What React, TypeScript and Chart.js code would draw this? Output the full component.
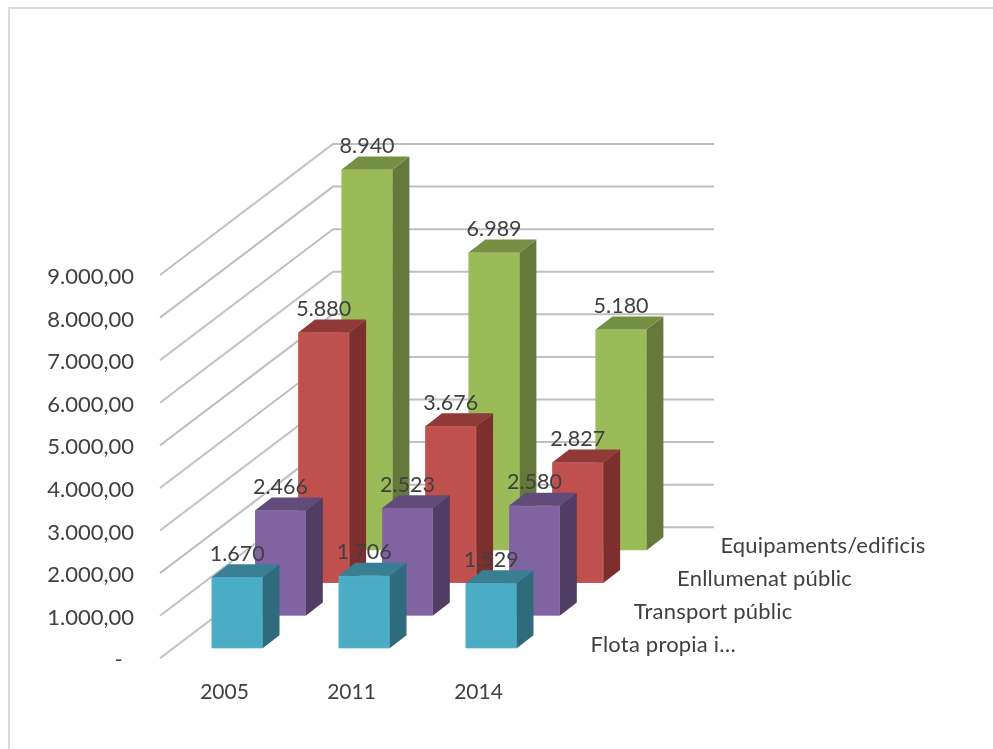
import React, { useEffect, useRef } from "react";
import { Chart, registerables } from "chart.js";

Chart.register(...registerables);

const years = ["2005", "2011", "2014"];
const seriesNames = ["Flota propia i…", "Transport públic", "Enllumenat públic", "Equipaments/edificis"];
const flota = [1670, 1706, 1529];
const transport = [2466, 2523, 2580];
const enllumenat = [5880, 3676, 2827];
const equipaments = [8940, 6989, 5180];

const frontColors = ["#4BACC6", "#8064A2", "#C0504D", "#9BBB59"];
const borderColors = ["#57B1C9", "#866BA6", "#C45B58", "#A1BF63"];
const sideColors = ["#2E6C7D", "#503D66", "#7D2F2D", "#657A3A"];
const topColors = ["#387F93", "#604B7A", "#913937", "#769043"];

const FONT = "Lato, Carlito, sans-serif";
const TEXT = "#404040";
const TICK_FONT_SIZE = 22;
const YEAR_FONT_SIZE = 21;
const VALUE_FONT_SIZE = 21.5;
const NAME_FONT_SIZE = 22;

// projection of the 3D box, in pixels
const WALL_DX = 173;
const WALL_DY = 131;
const FIRST_DX = 13.7;
const FIRST_DY = 10;
const STEP_DX = 43.3;
const STEP_DY = 32.7;
const BOX_DX = 16.8;
const BOX_DY = 13;

const fmt = (v: number) => Math.round(v).toLocaleString("de-DE");

const depthPlugin = {
  id: "depth3d",
  beforeDatasetsDraw(chart: any) {
    const { ctx, chartArea, scales } = chart;
    ctx.save();
    ctx.strokeStyle = "#C0C0C0";
    ctx.lineWidth = 2;
    scales.y.ticks.forEach((t: any) => {
      const y = scales.y.getPixelForValue(t.value);
      ctx.beginPath();
      ctx.moveTo(chartArea.left, y);
      ctx.lineTo(chartArea.left + WALL_DX, y - WALL_DY);
      ctx.lineTo(chartArea.right + WALL_DX, y - WALL_DY);
      ctx.stroke();
    });
    ctx.restore();
  },
  beforeDatasetDraw(chart: any, args: any) {
    const i = args.index;
    chart.ctx.save();
    chart.ctx.translate(FIRST_DX + i * STEP_DX, -FIRST_DY - i * STEP_DY);
  },
  afterDatasetDraw(chart: any, args: any) {
    const { ctx } = chart;
    const i = args.index;
    args.meta.data.forEach((bar: any) => {
      const l = bar.x - bar.width / 2;
      const r = bar.x + bar.width / 2;
      ctx.strokeStyle = borderColors[i];
      ctx.lineWidth = 1;
      ctx.strokeRect(l + 0.5, bar.y + 0.5, bar.width - 1, bar.base - bar.y - 1);
      ctx.fillStyle = sideColors[i];
      ctx.beginPath();
      ctx.moveTo(r, bar.y);
      ctx.lineTo(r + BOX_DX, bar.y - BOX_DY);
      ctx.lineTo(r + BOX_DX, bar.base - BOX_DY);
      ctx.lineTo(r, bar.base);
      ctx.closePath();
      ctx.fill();
      ctx.fillStyle = topColors[i];
      ctx.beginPath();
      ctx.moveTo(l, bar.y);
      ctx.lineTo(l + BOX_DX, bar.y - BOX_DY);
      ctx.lineTo(r + BOX_DX, bar.y - BOX_DY);
      ctx.lineTo(r, bar.y);
      ctx.closePath();
      ctx.fill();
    });
    ctx.restore();
  },
  afterDatasetsDraw(chart: any) {
    const { ctx, chartArea } = chart;
    ctx.save();
    ctx.fillStyle = TEXT;
    ctx.textBaseline = "middle";
    chart.data.datasets.forEach((ds: any, i: number) => {
      const meta = chart.getDatasetMeta(i);
      const ox = FIRST_DX + i * STEP_DX;
      const oy = -FIRST_DY - i * STEP_DY;
      ctx.font = `${VALUE_FONT_SIZE}px ${FONT}`;
      ctx.letterSpacing = "0px";
      ctx.textAlign = "center";
      meta.data.forEach((bar: any, k: number) => {
        ctx.fillText(fmt(ds.data[k]), bar.x + ox, bar.y + oy - 23.5);
      });
      ctx.font = `${NAME_FONT_SIZE}px ${FONT}`;
      ctx.letterSpacing = "0.2px";
      ctx.textAlign = "left";
      ctx.fillText(seriesNames[i], chartArea.right + 49.5 + i * STEP_DX, 644.5 - i * 33);
    });
    ctx.restore();
  },
  afterDraw(chart: any) {
    const { ctx, width, height } = chart;
    ctx.save();
    ctx.strokeStyle = "#DADADA";
    ctx.lineWidth = 2;
    ctx.beginPath();
    ctx.moveTo(9, height);
    ctx.lineTo(9, 8);
    ctx.lineTo(width, 8);
    ctx.stroke();
    ctx.restore();
  },
};

export default function App() {
  const ref = useRef<HTMLCanvasElement>(null);
  useEffect(() => {
    document.body.style.margin = "0";
    document.body.style.background = "#fff";
    const seriesValues = [flota, transport, enllumenat, equipaments];
    const chart = new Chart(ref.current!, {
      type: "bar",
      data: {
        labels: years,
        datasets: seriesValues.map((data, i) => ({
          label: seriesNames[i],
          data,
          backgroundColor: frontColors[i],
          borderWidth: 0,
          grouped: false,
          barPercentage: 0.4016,
          categoryPercentage: 1,
        })),
      },
      options: {
        responsive: false,
        animation: false,
        layout: { padding: { top: 275, right: 452, bottom: 0, left: 0 } },
        plugins: { legend: { display: false }, tooltip: { enabled: false } },
        scales: {
          x: {
            afterFit(s: any) { s.height = 90.7; },
            grid: { display: false, drawTicks: false },
            border: { display: false },
            ticks: { font: { family: FONT, size: YEAR_FONT_SIZE }, color: TEXT, padding: 21, labelOffset: 1, maxRotation: 0, autoSkip: false },
          },
          y: {
            min: 0,
            max: 9000,
            afterFit(s: any) { s.width = 160; },
            grid: { display: false, drawTicks: false },
            border: { display: false },
            ticks: {
              stepSize: 1000,
              font: { family: FONT, size: TICK_FONT_SIZE },
              color: TEXT,
              padding: 26,
              labelOffset: 2,
              callback: (v: any) =>
                v === 0
                  ? "-\u00a0\u00a0"
                  : Number(v).toLocaleString("de-DE", { minimumFractionDigits: 2, maximumFractionDigits: 2 }),
            },
          },
        },
      },
      plugins: [depthPlugin],
    } as any);
    return () => chart.destroy();
  }, []);
  return <canvas ref={ref} width={993} height={749} style={{ display: "block" }} />;
}
